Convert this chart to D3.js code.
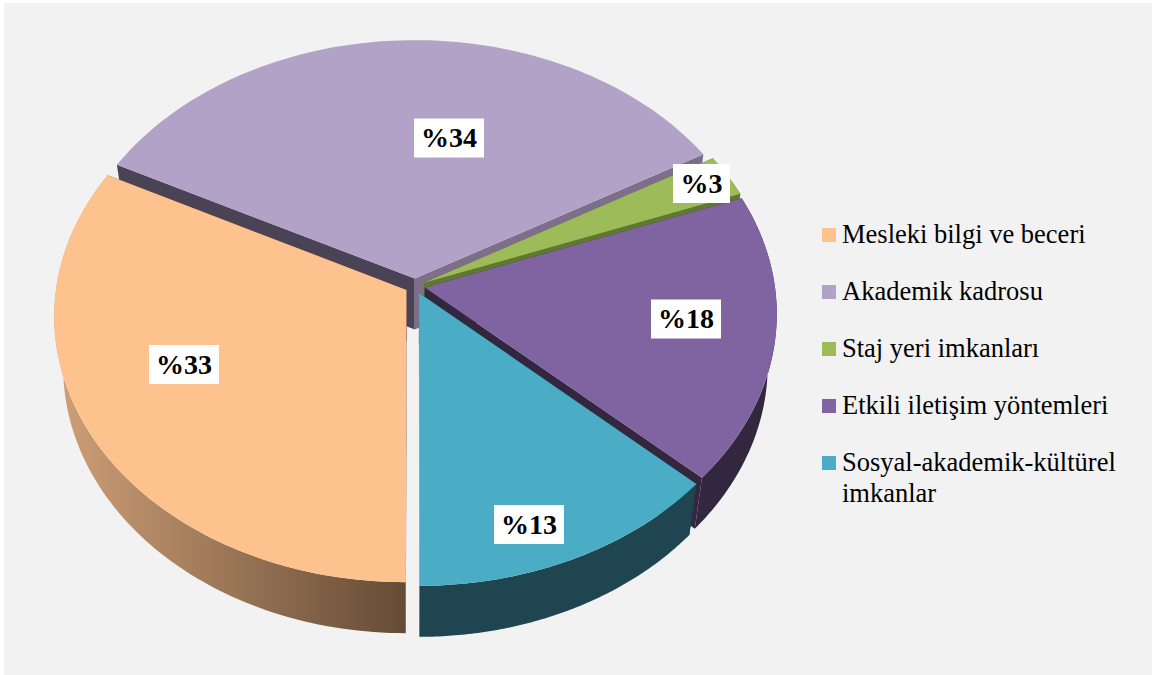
<!DOCTYPE html>
<html><head><meta charset="utf-8">
<script src="https://cdn.jsdelivr.net/npm/d3@7"></script>
<style>html,body{margin:0;padding:0;background:#fff}svg{display:block}</style>
</head><body><svg id="c" width="1152" height="675"></svg>
<script>
const categories = ["Mesleki bilgi ve beceri","Akademik kadrosu","Staj yeri imkanları","Etkili iletişim yöntemleri","Sosyal-akademik-kültürel imkanlar"];
const values = [32.5,34.2,2.6,17.5,13.2];
const labels = ["%33","%34","%3","%18","%13"];
const topColors = ["#fec28f","#b3a2c7","#9dbb59","#8064a2","#4bacc6"];
const wallColors = ["#674c37","#4a4255","#5f7a30","#33263f","#1f4650"];
const labelCentres = [[184,364.5],[449,138],[701.5,183.5],[686,319],[529,524.5]];
const legendRows = [[categories[0]],[categories[1]],[categories[2]],[categories[3]],["Sosyal-akademik-kültürel","imkanlar"]];

const svg = d3.select("#c");
svg.append("rect").attr("x",4).attr("y",3).attr("width",1148).attr("height",672).attr("fill","#f2f2f2");

const defs = svg.append("defs");
const grad = defs.append("linearGradient").attr("id","orangeSide").attr("gradientUnits","userSpaceOnUse")
  .attr("x1",55).attr("x2",406).attr("y1",0).attr("y2",0);
grad.append("stop").attr("offset",0).attr("stop-color","#cfa077");
grad.append("stop").attr("offset",1).attr("stop-color","#654b36");

// camera
const cx=415, cy=286, R=350, Rs=263, k=0.0974, explode=0.0285, depth=51, shrink=0.975;
const xS = d3.scaleLinear().domain([0,1]).range([0,R]);
const yS = d3.scaleLinear().domain([0,1]).range([0,Rs]);
function project(X,Y,low){
  const w = 1-k*Y;
  let x = cx + xS(X/w), y = cy + yS(Y/w);
  if(low){ x = cx + (x-cx)*shrink; y += depth; }
  return [x,y];
}
// angle 0 = bottom of the pie, growing clockwise on screen
const pie = d3.pie().sort(null).value(d=>d).startAngle(0).endAngle(2*Math.PI);
const arcs = pie(values);
const unit = a=>[-Math.sin(a),Math.cos(a)];
const line = d3.line();

function outline(d){
  const mid=(d.startAngle+d.endAngle)/2, [ex,ey]=unit(mid);
  const o=[ex*explode,ey*explode];
  const rim=d3.range(0,97).map(i=>{
    const a=d.startAngle+(d.endAngle-d.startAngle)*i/96, [ux,uy]=unit(a);
    return [o[0]+ux,o[1]+uy];
  });
  return {o,rim};
}
function poly(pts,low){return line(pts.map(p=>project(p[0],p[1],low)))+"Z";}
function quad(a,b){return line([project(a[0],a[1],false),project(b[0],b[1],false),project(b[0],b[1],true),project(a[0],a[1],true)])+"Z";}

// painter's order: back, right, then the two front slices
[1,2,3,4,0].forEach(i=>{
  const d=arcs[i], {o,rim}=outline(d), g=svg.append("g");
  const first=rim[0], last=rim[rim.length-1];
  // radial walls
  const wallA = i===1 ? "#4a4255" : wallColors[i];
  const wallB = i===1 ? "#7d6e8a" : wallColors[i];
  g.append("path").attr("d",quad(o,first)).attr("fill",wallA);
  g.append("path").attr("d",quad(o,last)).attr("fill",wallB);
  // outer wall: the back slice's faces away from the viewer
  if(i!==1){
    const low=rim.map(p=>project(p[0],p[1],true)), up=rim.map(p=>project(p[0],p[1],false));
    g.append("path").attr("d",line(up.concat(low.reverse()))+"Z")
     .attr("fill",i===0?"url(#orangeSide)":wallColors[i]);
  }
  // top face
  g.append("path").attr("d",poly([o].concat(rim),false)).attr("fill",topColors[i]);
});

labels.forEach((t,i)=>{
  const w = t.length===2?57:70, h=39, [x,y]=labelCentres[i];
  svg.append("rect").attr("x",x-w/2).attr("y",y-h/2).attr("width",w).attr("height",h).attr("fill","#fff");
  svg.append("text").attr("x",x).attr("y",y+9).attr("text-anchor","middle")
    .attr("font-family","'Liberation Serif'").attr("font-weight","bold").attr("font-size",28).attr("fill","#000").text(t);
});

const legY = d3.scalePoint().domain(d3.range(5)).range([228,456]);
legendRows.forEach((lines,i)=>{
  const y=legY(i);
  svg.append("rect").attr("x",822).attr("y",y).attr("width",14).attr("height",14).attr("fill",topColors[i]);
  lines.forEach((t,j)=>{
    svg.append("text").attr("x",842).attr("y",y+15+j*31).attr("font-family","'Liberation Serif'")
      .attr("font-size",26.5).attr("fill","#000").text(t);
  });
});
</script></body></html>
